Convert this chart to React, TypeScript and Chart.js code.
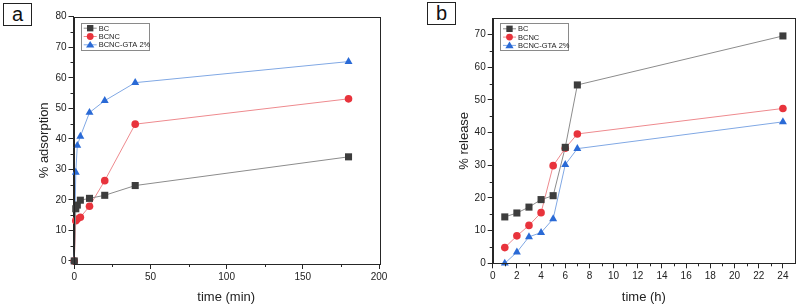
import React, { useEffect, useRef } from "react";
import { Chart, registerables } from "chart.js";

Chart.register(...registerables);

// Panel a: adsorption
const timeMin = [0, 1, 2, 4, 10, 20, 40, 180];
const adsBC = [0, 17.1, 18.3, 19.9, 20.5, 21.5, 24.7, 34.1];
const adsBCNC = [0, 13.2, 13.7, 14.3, 17.9, 26.3, 44.8, 53.1];
const adsGTA = [0, 29.0, 37.8, 40.8, 48.6, 52.5, 58.4, 65.3];
const aXTicks = [0, 50, 100, 150, 200];
const aXMinor = [25, 75, 125, 175];
const aYTicks = [0, 10, 20, 30, 40, 50, 60, 70, 80];
const aYMinor = [5, 15, 25, 35, 45, 55, 65, 75];

// Panel b: release
const timeH = [1, 2, 3, 4, 5, 6, 7, 24];
const relBC = [14.2, 15.4, 17.2, 19.5, 20.7, 35.5, 54.6, 69.6];
const relBCNC = [4.8, 8.4, 11.6, 15.5, 29.9, 35.2, 39.6, 47.4];
const relGTA = [0, 3.4, 8.1, 9.4, 13.6, 30.2, 35.1, 43.3];
const bXTicks = [0, 2, 4, 6, 8, 10, 12, 14, 16, 18, 20, 22, 24];
const bXMinor = [1, 3, 5, 7, 9, 11, 13, 15, 17, 19, 21, 23];
const bYTicks = [0, 10, 20, 30, 40, 50, 60, 70];
const bYMinor = [5, 15, 25, 35, 45, 55, 65];

const seriesNames = ["BC", "BCNC", "BCNC-GTA 2%"];
const markerColors = ["#3d3d3d", "#e8333c", "#2a6ad6"];
const lineColors = ["#8c8c8c", "#ee8a8e", "#80a8e4"];
const pointStyles = ["rect", "circle", "triangle"];
const pointRadii = [5, 3.8, 4.6];

const FONT = "'Liberation Sans', Arial, sans-serif";
const AXIS = "#262626";

function drawMarker(ctx: CanvasRenderingContext2D, style: string, x: number, y: number, r: number, color: string) {
  ctx.save();
  ctx.fillStyle = color;
  ctx.beginPath();
  if (style === "rect") {
    const s = Math.SQRT1_2 * r;
    ctx.rect(x - s, y - s, 2 * s, 2 * s);
  } else if (style === "circle") {
    ctx.arc(x, y, r, 0, Math.PI * 2);
  } else {
    const h = r * 1.5;
    const w = r * Math.sqrt(3) * 0.5 * 1.15;
    ctx.moveTo(x, y - h * 0.62);
    ctx.lineTo(x + w, y + h * 0.45);
    ctx.lineTo(x - w, y + h * 0.45);
    ctx.closePath();
  }
  ctx.fill();
  ctx.restore();
}

const framePlugin = {
  id: "frame",
  afterDraw(chart: any) {
    const ctx = chart.ctx as CanvasRenderingContext2D;
    const ca = chart.chartArea;
    const opts = chart.options.plugins.frame;
    ctx.save();
    ctx.strokeStyle = AXIS;
    ctx.lineWidth = 1;
    ctx.strokeRect(Math.round(ca.left) + 0.5, Math.round(ca.top) + 0.5, Math.round(ca.right - ca.left), Math.round(ca.bottom - ca.top));
    // minor ticks
    const xs = chart.scales.x;
    const ys = chart.scales.y;
    ctx.beginPath();
    for (const v of opts.xMinor) {
      const px = Math.round(xs.getPixelForValue(v)) + 0.5;
      ctx.moveTo(px, ca.bottom);
      ctx.lineTo(px, ca.bottom + 3);
    }
    for (const v of opts.yMinor) {
      const py = Math.round(ys.getPixelForValue(v)) + 0.5;
      ctx.moveTo(ca.left, py);
      ctx.lineTo(ca.left - 3, py);
    }
    ctx.stroke();
    // legend
    const lx = ca.left + opts.legendDx;
    const ly = ca.top + opts.legendDy;
    const lw = 68;
    const rowH = 8.3;
    const lh = rowH * 3 + 2;
    ctx.strokeStyle = "#8a8a8a";
    ctx.strokeRect(Math.round(lx) + 0.5, Math.round(ly) + 0.5, lw, Math.round(lh));
    ctx.font = `7.5px ${FONT}`;
    ctx.textBaseline = "middle";
    for (let i = 0; i < 3; i++) {
      const cy = ly + 5.5 + i * rowH;
      ctx.strokeStyle = lineColors[i];
      ctx.beginPath();
      ctx.moveTo(lx + 3, cy);
      ctx.lineTo(lx + 16, cy);
      ctx.stroke();
      drawMarker(ctx, pointStyles[i], lx + 9.5, cy, pointRadii[i] * 0.9, markerColors[i]);
      ctx.fillStyle = "#222";
      ctx.fillText(seriesNames[i], lx + 18, cy + 0.5);
    }
    ctx.restore();
  },
};

function makeConfig(p: {
  xs: number[];
  ys: number[][];
  xMin: number;
  xMax: number;
  yMin: number;
  yMax: number;
  xTicks: number[];
  yTicks: number[];
  xMinor: number[];
  yMinor: number[];
  xTitle: string;
  yTitle: string;
  yWidth: number;
  xHeight: number;
  padRight: number;
  padTop: number;
  yTitlePad: number;
  legendDx: number;
  legendDy: number;
}) {
  return {
    type: "line",
    data: {
      datasets: p.ys.map((arr, i) => ({
        label: seriesNames[i],
        data: arr.map((v, j) => ({ x: p.xs[j], y: v })),
        borderColor: lineColors[i],
        borderWidth: 1,
        backgroundColor: markerColors[i],
        pointBackgroundColor: markerColors[i],
        pointBorderWidth: 0,
        pointStyle: pointStyles[i],
        pointRadius: pointRadii[i],
        tension: 0,
        fill: false,
        clip: false,
      })),
    },
    options: {
      animation: false,
      responsive: false,
      maintainAspectRatio: false,
      layout: { padding: { left: 0, right: p.padRight, top: p.padTop, bottom: 0 } },
      plugins: {
        legend: { display: false },
        tooltip: { enabled: false },
        frame: { xMinor: p.xMinor, yMinor: p.yMinor, legendDx: p.legendDx, legendDy: p.legendDy },
      },
      scales: {
        x: {
          type: "linear",
          min: p.xMin,
          max: p.xMax,
          afterBuildTicks: (s: any) => {
            s.ticks = p.xTicks.map((v) => ({ value: v }));
          },
          afterFit: (s: any) => {
            s.height = p.xHeight;
          },
          grid: { display: true, drawOnChartArea: false, drawTicks: true, tickLength: 5, color: AXIS },
          border: { display: true, color: AXIS },
          ticks: { font: { family: FONT, size: 10, weight: "normal" }, color: "#222", padding: 2, maxRotation: 0, autoSkip: false },
          title: { display: true, text: p.xTitle, font: { family: FONT, size: 13, weight: "normal" }, color: "#222", padding: { top: 2, bottom: 0 } },
        },
        y: {
          type: "linear",
          min: p.yMin,
          max: p.yMax,
          afterBuildTicks: (s: any) => {
            s.ticks = p.yTicks.map((v) => ({ value: v }));
          },
          afterFit: (s: any) => {
            s.width = p.yWidth;
          },
          grid: { display: true, drawOnChartArea: false, drawTicks: true, tickLength: 5, color: AXIS },
          border: { display: true, color: AXIS },
          ticks: { font: { family: FONT, size: 10, weight: "normal" }, color: "#222", padding: 2, autoSkip: false },
          title: { display: true, text: p.yTitle, font: { family: FONT, size: 13, weight: "normal" }, color: "#222", padding: { top: p.yTitlePad, bottom: 0 } },
        },
      },
    },
    plugins: [framePlugin],
  } as any;
}

function Panel({ config, left }: { config: any; left: number }) {
  const ref = useRef<HTMLCanvasElement>(null);
  useEffect(() => {
    if (!ref.current) return;
    const chart = new Chart(ref.current, config);
    return () => chart.destroy();
  }, [config]);
  return (
    <canvas
      ref={ref}
      width={400}
      height={305}
      style={{ position: "absolute", left, top: 0, width: 400, height: 305 }}
    />
  );
}

const configA = makeConfig({
  xs: timeMin,
  ys: [adsBC, adsBCNC, adsGTA],
  xMin: -0.5,
  xMax: 200,
  yMin: -1,
  yMax: 80,
  xTicks: aXTicks,
  yTicks: aYTicks,
  xMinor: aXMinor,
  yMinor: aYMinor,
  xTitle: "time (min)",
  yTitle: "% adsorption",
  yWidth: 73.5,
  xHeight: 41,
  padRight: 21,
  padTop: 16.7,
  yTitlePad: 37,
  legendDx: 7.2,
  legendDy: 6,
});

const configB = makeConfig({
  xs: timeH,
  ys: [relBC, relBCNC, relGTA],
  xMin: 0,
  xMax: 25,
  yMin: 0,
  yMax: 75,
  xTicks: bXTicks,
  yTicks: bYTicks,
  xMinor: bXMinor,
  yMinor: bYMinor,
  xTitle: "time (h)",
  yTitle: "% release",
  yWidth: 92.7,
  xHeight: 41.7,
  padRight: 2.7,
  padTop: 18.3,
  yTitlePad: 57,
  legendDx: 7.3,
  legendDy: 5,
});

const letterBox = (left: number, top: number): React.CSSProperties => ({
  position: "absolute",
  left,
  top,
  width: 29,
  height: 23,
  border: "1px solid #222",
  boxSizing: "border-box",
  fontFamily: FONT,
  fontSize: 20,
  lineHeight: "20px",
  textAlign: "center",
  color: "#111",
  background: "#fff",
});

export default function App() {
  useEffect(() => {
    document.body.style.margin = "0";
  }, []);
  return (
    <div style={{ position: "relative", width: 800, height: 305, background: "#fff", overflow: "hidden" }}>
      <Panel config={configA} left={0} />
      <Panel config={configB} left={400} />
      <div style={letterBox(3, 3)}>a</div>
      <div style={letterBox(427, 2)}>b</div>
    </div>
  );
}
